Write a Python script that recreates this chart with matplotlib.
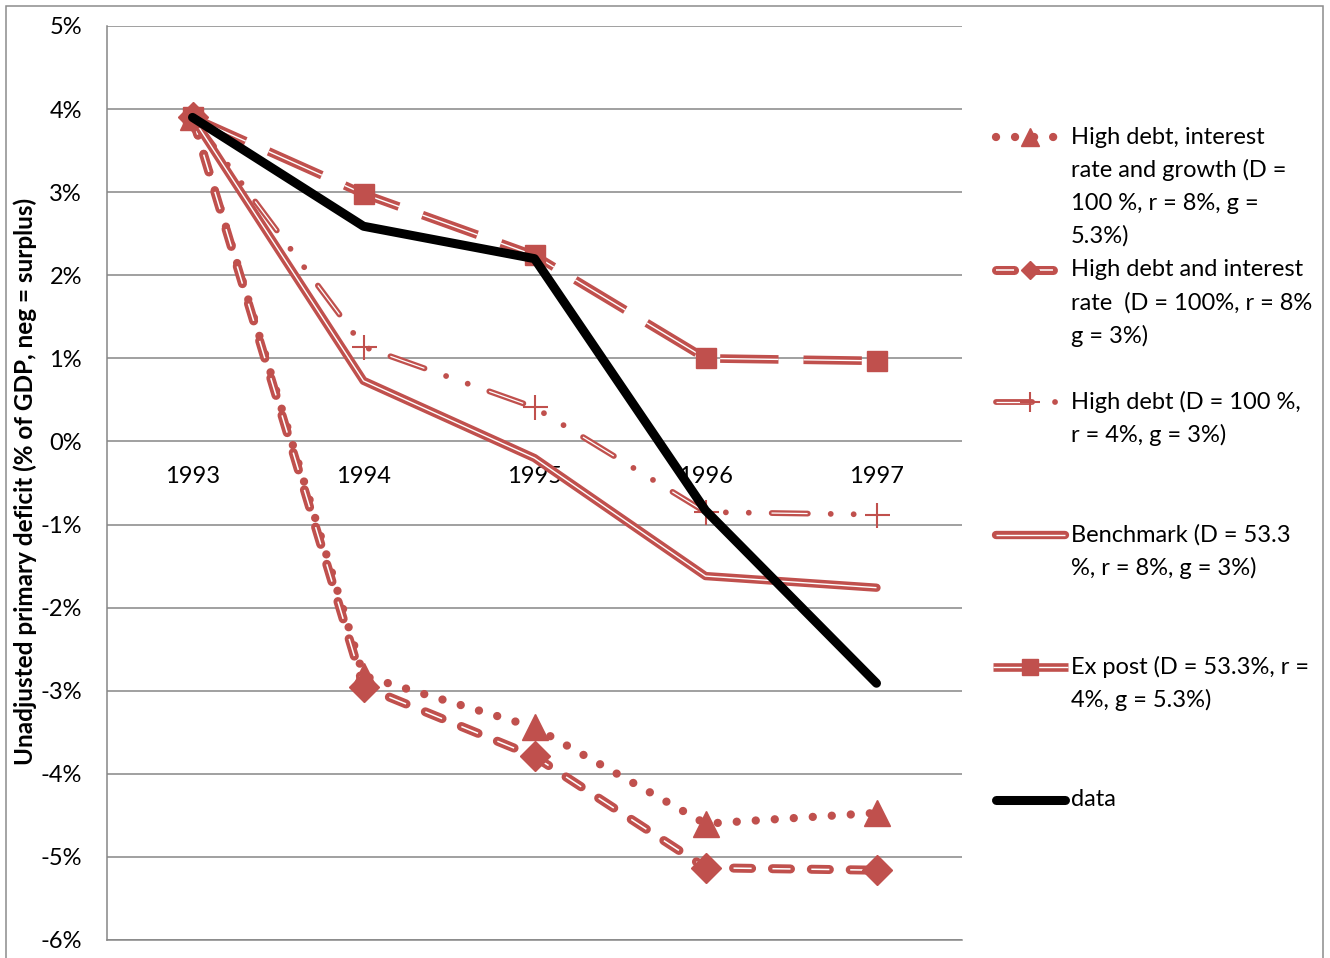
import matplotlib
matplotlib.use('Agg')
import matplotlib.pyplot as plt
from matplotlib.patches import Rectangle

plt.rcParams['font.family'] = ['Lato', 'DejaVu Sans']
plt.rcParams['lines.scale_dashes'] = False

# data (% of GDP)
years = ['1993', '1994', '1995', '1996', '1997']
hd_irg = [3.9, -2.82, -3.44, -4.60, -4.47]      # high debt, interest rate and growth
hd_ir = [3.9, -2.95, -3.79, -5.13, -5.16]       # high debt and interest rate
hd = [3.9, 1.14, 0.41, -0.85, -0.88]            # high debt
bench = [3.9, 0.73, -0.20, -1.62, -1.76]        # benchmark
expost = [3.9, 2.98, 2.24, 1.00, 0.97]          # ex post
data = [3.9, 2.59, 2.20, -0.83, -2.91]          # data

yticks = [5, 4, 3, 2, 1, 0, -1, -2, -3, -4, -5, -6]
ylabel = 'Unadjusted primary deficit (% of GDP, neg = surplus)'
leg_lines = [
    ['High debt, interest', 'rate and growth (D =', '100 %, r = 8%, g =', '5.3%)'],
    ['High debt and interest', 'rate  (D = 100%, r = 8%', 'g = 3%)'],
    ['High debt (D = 100 %,', 'r = 4%, g = 3%)'],
    ['Benchmark (D = 53.3', '%, r = 8%, g = 3%)'],
    ['Ex post (D = 53.3%, r =', '4%, g = 5.3%)'],
    ['data'],
]

RED = '#C0504D'
GRID = '#868686'
FS = 17

# styles: (outer lw, inner lw, outer dashes, inner dashes, capstyle)
styles = {
    'irg': dict(lw=6, dashes=(0.01, 13.7), cap='round'),
    'ir': (6.5, 1.1, (13, 15), (13, 15), 'round'),
    'hd': (4.2, 0.9, (26, 16.5, 0.01, 16.5, 0.01, 16.5), (26, 49.5), 'round'),
    'bench': (6, 1.0, None, None, 'round'),
    'expost': (6.2, 1.0, (42, 18), (42, 18), 'butt'),
}


def compound(a, xs, ys, st, z, solid=False):
    wo, wi, do, di, cap = st
    if do is None or solid:
        a.plot(xs, ys, color=RED, lw=wo, solid_capstyle=cap, zorder=z)
        a.plot(xs, ys, color='white', lw=wi, solid_capstyle='butt', zorder=z + 0.1)
    else:
        a.plot(xs, ys, color=RED, lw=wo, dashes=do, dash_capstyle=cap, zorder=z)
        a.plot(xs, ys, color='white', lw=wi, dashes=di, dash_capstyle='butt', zorder=z + 0.1)


def dotted(a, xs, ys, z):
    s = styles['irg']
    a.plot(xs, ys, color=RED, lw=s['lw'], dashes=s['dashes'], dash_capstyle=s['cap'], zorder=z)


fig = plt.figure(figsize=(13.3, 9.58), dpi=100)
ax = fig.add_axes([107 / 1330, 1 - 940 / 958, (962 - 107) / 1330, (940 - 26) / 958])

x = list(range(len(years)))

dotted(ax, x, hd_irg, 3)
ax.plot(x, hd_irg, ls='none', marker='^', ms=19, color=RED, zorder=3.5)
compound(ax, x, hd_ir, styles['ir'], 4)
ax.plot(x, hd_ir, ls='none', marker='D', ms=15, color=RED, zorder=4.5)
compound(ax, x, hd, styles['hd'], 5)
ax.plot(x, hd, ls='none', marker='+', ms=18, mew=1.5, color=RED, zorder=5.5)
compound(ax, x, bench, styles['bench'], 6)
compound(ax, x, expost, styles['expost'], 7)
ax.plot(x, expost, ls='none', marker='s', ms=15, color=RED, zorder=7.5)
ax.plot(x, data, color='black', lw=6.5, solid_capstyle='round', solid_joinstyle='round', zorder=8)

ax.set_xlim(-0.5, len(years) - 0.5)
ax.set_ylim(-6, 5)
ax.set_yticks(yticks)
ax.set_yticklabels(['%d%%' % v for v in yticks], fontsize=FS)
ax.tick_params(axis='y', length=0, pad=18)
ax.set_xticks([])
ax.yaxis.grid(True, color=GRID, lw=1.1)
ax.set_axisbelow(True)
for s in ['top', 'right']:
    ax.spines[s].set_visible(False)
for s in ['left', 'bottom']:
    ax.spines[s].set_color(GRID)
    ax.spines[s].set_linewidth(1.1)

for i, yr in enumerate(years):
    ax.text(i, -0.42, yr, ha='center', va='center', fontsize=FS, zorder=2)

fig.text(25 / 1330, 1 - 481 / 958, ylabel, rotation=90, ha='center', va='center',
         fontsize=17.5, fontweight='bold')

# legend drawn in pixel coordinates
lax = fig.add_axes([0, 0, 1, 1])
lax.set_xlim(0, 1330)
lax.set_ylim(958, 0)
lax.axis('off')
lx = [996, 1065]
mx = [1030]
ys0 = [137, 270, 402, 535, 667, 800]

dotted(lax, lx, [ys0[0]] * 2, 3)
lax.plot(mx, [ys0[0]], ls='none', marker='^', ms=13, color=RED, zorder=3.5)
compound(lax, lx, [ys0[1]] * 2, styles['ir'], 4)
lax.plot(mx, [ys0[1]], ls='none', marker='D', ms=9, color=RED, zorder=4.5)
compound(lax, lx, [ys0[2]] * 2, styles['hd'], 5)
lax.plot(mx, [ys0[2]], ls='none', marker='+', ms=14, mew=1.5, color=RED, zorder=5.5)
compound(lax, lx, [ys0[3]] * 2, styles['bench'], 6)
compound(lax, [993, 1068], [ys0[4]] * 2, styles['expost'], 7, solid=True)
lax.plot(mx, [ys0[4]], ls='none', marker='s', ms=12, color=RED, zorder=7.5)
lax.plot(lx, [ys0[5]] * 2, color='black', lw=6.5, solid_capstyle='round', zorder=8)

for y0, lines in zip(ys0, leg_lines):
    for k, t in enumerate(lines):
        lax.text(1071, y0 + k * 33, t, ha='left', va='center', fontsize=FS)

fig.patches.append(Rectangle((6 / 1330, -0.05), 1317 / 1330, 1.05 - 6 / 958,
                             transform=fig.transFigure, fill=False,
                             edgecolor='#8c8c8c', lw=1.1))

fig.savefig('out.png', dpi=100)
